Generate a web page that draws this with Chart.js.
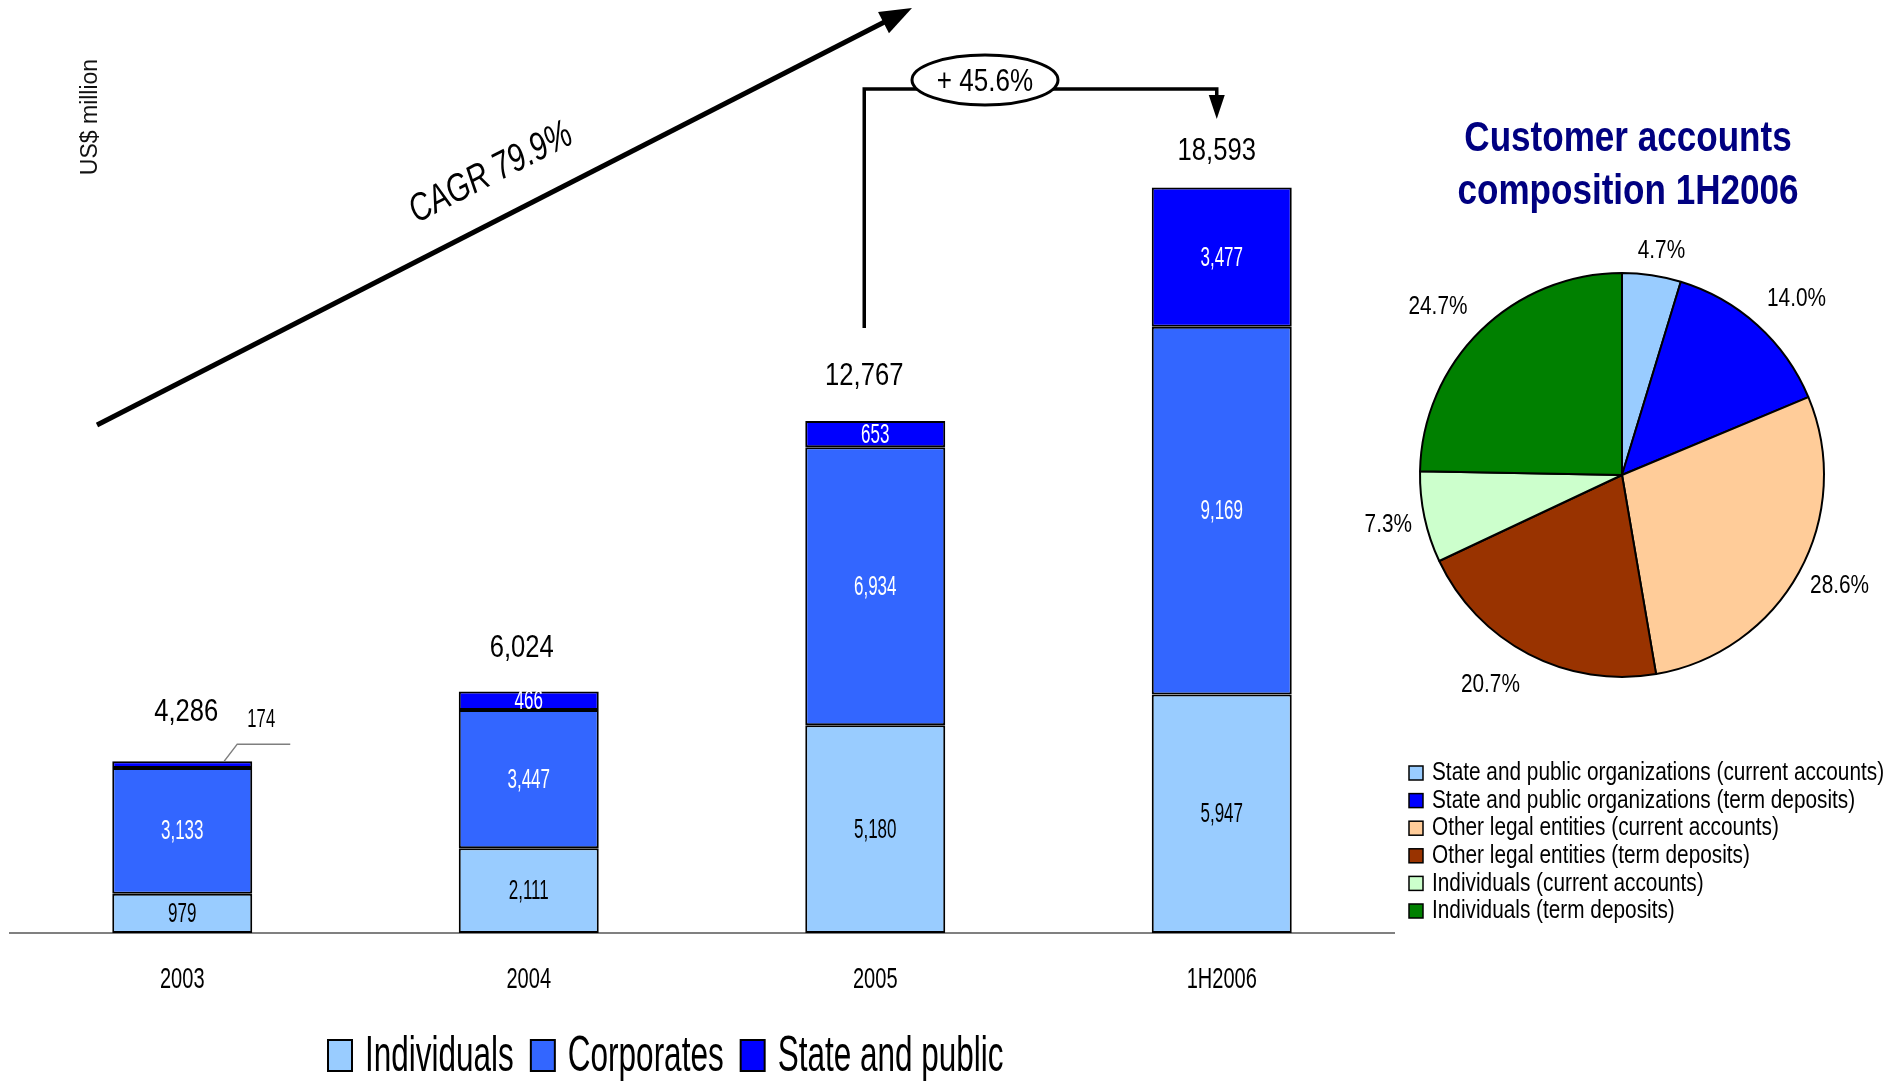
<!DOCTYPE html>
<html><head><meta charset="utf-8">
<script src="https://cdn.jsdelivr.net/npm/chart.js@4.4.1/dist/chart.umd.min.js"></script>
<style>
html,body{margin:0;padding:0;background:#fff;width:1900px;height:1081px;overflow:hidden}
canvas{position:absolute;left:0;top:0}
</style></head><body>
<canvas id="bar" width="1900" height="1081"></canvas>
<canvas id="pie" width="1900" height="1081"></canvas>
<script>
// ---------- DATA ----------
const categories = ['2003', '2004', '2005', '1H2006'];
const individuals = [979, 2111, 5180, 5947];
const corporates = [3133, 3447, 6934, 9169];
const statePublic = [174, 466, 653, 3477];
const barSeriesNames = ['Individuals', 'Corporates', 'State and public'];

const pieLabels = [
  'State and public organizations (current accounts)',
  'State and public organizations (term deposits)',
  'Other legal entities (current accounts)',
  'Other legal entities (term deposits)',
  'Individuals (current accounts)',
  'Individuals (term deposits)'
];
const pieValues = [4.7, 14.0, 28.6, 20.7, 7.3, 24.7];

const yTitle = 'US$ million';
const cagrText = 'CAGR 79.9%';
const growthText = '+ 45.6%';
const pieTitleLines = ['Customer accounts', 'composition 1H2006'];

// ---------- STYLE / LAYOUT ----------
const FONT = '"Liberation Sans", Arial, sans-serif';
const barColors = ['#99CCFF', '#3366FF', '#0000FF'];
const barLabelColors = ['#000000', '#FFFFFF', '#FFFFFF'];
const pieColors = ['#99CCFF', '#0000FF', '#FFCC99', '#993300', '#CCFFCC', '#008000'];
const totalLift = [49, 43, 45, 36];
const totalShift = [4, -7, -11, -5];
const pieLabelGap = [26, 46, 42, 46, 37, 47];
const pieLabelTurn = [1.5, 2.6, -1.9, 4.5, 0, -3.2];

function drawText(ctx, s, x, y, o) {
  ctx.save();
  ctx.translate(x, y);
  if (o.rot) ctx.rotate(o.rot);
  const sx = o.sx || 1;
  ctx.scale(sx, 1);
  ctx.font = `${o.style || 'normal'} ${o.weight || 'normal'} ${o.size}px ${FONT}`;
  ctx.fillStyle = o.color || '#000';
  ctx.textAlign = o.align || 'center';
  ctx.textBaseline = o.baseline || 'middle';
  ctx.fillText(s, 0, 0);
  const w = ctx.measureText(s).width * sx;
  ctx.restore();
  return w;
}
const fmt = v => v.toLocaleString('en-US');

// ---------- BAR CHART ----------
const barPlugin = {
  id: 'barDecor',
  beforeDatasetsDraw(chart) {
    const ctx = chart.ctx, a = chart.chartArea;
    const y0 = chart.scales.y.getPixelForValue(0);
    ctx.save();
    ctx.strokeStyle = '#808080';
    ctx.lineWidth = 2;
    ctx.beginPath();
    ctx.moveTo(a.left, y0); ctx.lineTo(a.right, y0);
    ctx.stroke();
    ctx.restore();
  },
  afterDatasetsDraw(chart) {
    const ctx = chart.ctx;
    const xs = chart.scales.x, ys = chart.scales.y;
    const y0 = ys.getPixelForValue(0);
    // segment labels
    chart.data.datasets.forEach((ds, i) => {
      const meta = chart.getDatasetMeta(i);
      meta.data.forEach((el, j) => {
        const h = Math.abs(el.base - el.y);
        const v = ds.data[j];
        if (h > 16) {
          drawText(ctx, fmt(v), el.x, (el.y + el.base) / 2 + 1, {size: 27, sx: 0.63, color: barLabelColors[i]});
        } else {
          ctx.save();
          ctx.strokeStyle = '#7f7f7f';
          ctx.lineWidth = 1.5;
          ctx.beginPath();
          ctx.moveTo(el.x + 42, el.y);
          ctx.lineTo(el.x + 55, el.y - 17);
          ctx.lineTo(el.x + 108, el.y - 17);
          ctx.stroke();
          ctx.restore();
          drawText(ctx, fmt(v), el.x + 79, el.y - 41, {size: 26, sx: 0.64});
        }
      });
    });
    // totals and category labels
    const last = chart.getDatasetMeta(chart.data.datasets.length - 1);
    categories.forEach((c, j) => {
      const total = chart.data.datasets.reduce((s, ds) => s + ds.data[j], 0);
      const el = last.data[j];
      drawText(ctx, fmt(total), el.x + totalShift[j], el.y - totalLift[j], {size: 32, sx: 0.8});
      drawText(ctx, c, xs.getPixelForValue(j), y0 + 47, {size: 29, sx: 0.69});
    });
    // bottom legend
    let lx = 328;
    chart.data.datasets.forEach((ds) => {
      ctx.save();
      ctx.fillStyle = ds.backgroundColor;
      ctx.strokeStyle = '#000';
      ctx.lineWidth = 2;
      ctx.fillRect(lx, 1040, 24, 31);
      ctx.strokeRect(lx, 1040, 24, 31);
      ctx.restore();
      const w = drawText(ctx, ds.label, lx + 37, 1071, {size: 50, sx: 0.63, align: 'left', baseline: 'alphabetic'});
      lx += 37 + w + 17;
    });
    // y title
    drawText(ctx, yTitle, 91, 117, {size: 23, rot: -Math.PI / 2, color: '#111'});

    // CAGR arrow
    const ax0 = 97, ay0 = 425, ax1 = 912, ay1 = 8;
    const ang = Math.atan2(ay1 - ay0, ax1 - ax0);
    ctx.save();
    ctx.strokeStyle = '#000';
    ctx.fillStyle = '#000';
    ctx.lineWidth = 5;
    ctx.beginPath();
    ctx.moveTo(ax0, ay0);
    ctx.lineTo(ax1 - 26 * Math.cos(ang), ay1 - 26 * Math.sin(ang));
    ctx.stroke();
    ctx.translate(ax1, ay1);
    ctx.rotate(ang);
    ctx.beginPath();
    ctx.moveTo(0, 0); ctx.lineTo(-32, -12); ctx.lineTo(-32, 12); ctx.closePath();
    ctx.fill();
    ctx.restore();
    drawText(ctx, cagrText, 491, 173, {size: 39, sx: 0.76, style: 'italic', rot: ang});

    // growth connector
    const e2005 = last.data[2], e2006 = last.data[3];
    const vx = e2005.x - 11, hx = e2006.x - 5, hy = 89;
    ctx.save();
    ctx.strokeStyle = '#000';
    ctx.fillStyle = '#000';
    ctx.lineWidth = 3.5;
    ctx.beginPath();
    ctx.moveTo(vx, 328); ctx.lineTo(vx, hy); ctx.lineTo(hx, hy); ctx.lineTo(hx, 97);
    ctx.stroke();
    ctx.beginPath();
    ctx.moveTo(hx - 8, 95); ctx.lineTo(hx + 8, 95); ctx.lineTo(hx, 119); ctx.closePath();
    ctx.fill();
    ctx.beginPath();
    ctx.ellipse(985, 80, 73, 25, 0, 0, Math.PI * 2);
    ctx.fillStyle = '#fff';
    ctx.fill();
    ctx.lineWidth = 3;
    ctx.stroke();
    ctx.restore();
    drawText(ctx, growthText, 985, 82, {size: 31, sx: 0.84});
  }
};

new Chart(document.getElementById('bar'), {
  type: 'bar',
  data: {
    labels: categories,
    datasets: [
      {label: barSeriesNames[0], data: individuals, backgroundColor: barColors[0]},
      {label: barSeriesNames[1], data: corporates, backgroundColor: barColors[1]},
      {label: barSeriesNames[2], data: statePublic, backgroundColor: barColors[2]}
    ].map(d => Object.assign(d, {borderColor: '#000', borderWidth: 2, borderSkipped: false,
      categoryPercentage: 1, barPercentage: 0.404}))
  },
  options: {
    responsive: false,
    animation: false,
    events: [],
    layout: {padding: {left: 9, right: 505, top: 131, bottom: 148}},
    scales: {
      x: {stacked: true, display: false},
      y: {stacked: true, display: false, min: 0, max: 20000}
    },
    plugins: {legend: {display: false}, tooltip: {enabled: false}}
  },
  plugins: [barPlugin]
});

// ---------- PIE CHART ----------
const piePlugin = {
  id: 'pieDecor',
  afterDatasetsDraw(chart) {
    const ctx = chart.ctx;
    const meta = chart.getDatasetMeta(0);
    meta.data.forEach((el, i) => {
      const p = el.getProps(['x', 'y', 'startAngle', 'endAngle', 'outerRadius'], true);
      const mid = (p.startAngle + p.endAngle) / 2 + pieLabelTurn[i] * Math.PI / 180;
      const r = p.outerRadius + pieLabelGap[i];
      drawText(ctx, chart.data.datasets[0].data[i].toFixed(1) + '%',
        p.x + Math.cos(mid) * r, p.y + Math.sin(mid) * r, {size: 26, sx: 0.8});
    });
    // title
    pieTitleLines.forEach((t, i) => {
      drawText(ctx, t, 1628, 151 + i * 53, {size: 42, sx: 0.835, weight: 'bold', color: '#000080', baseline: 'alphabetic'});
    });
    // legend
    chart.data.labels.forEach((lab, i) => {
      const cy = 773 + i * 27.6;
      ctx.save();
      ctx.fillStyle = chart.data.datasets[0].backgroundColor[i];
      ctx.strokeStyle = '#000';
      ctx.lineWidth = 1.5;
      ctx.fillRect(1409, cy - 7, 14, 14);
      ctx.strokeRect(1409, cy - 7, 14, 14);
      ctx.restore();
      drawText(ctx, lab, 1432, cy, {size: 26, sx: 0.8, align: 'left'});
    });
  }
};

new Chart(document.getElementById('pie'), {
  type: 'pie',
  data: {
    labels: pieLabels,
    datasets: [{data: pieValues, backgroundColor: pieColors, borderColor: '#000', borderWidth: 2}]
  },
  options: {
    responsive: false,
    animation: false,
    events: [],
    layout: {padding: {left: 1419, right: 75, top: 272, bottom: 403}},
    plugins: {legend: {display: false}, tooltip: {enabled: false}}
  },
  plugins: [piePlugin]
});
</script>
</body></html>
